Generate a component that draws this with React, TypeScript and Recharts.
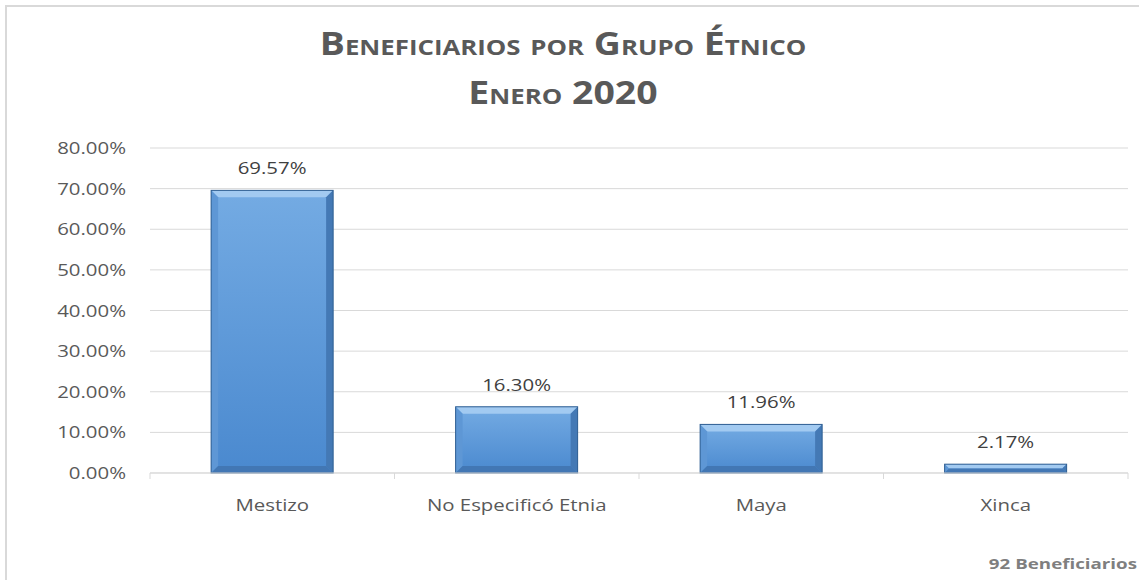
import { BarChart, Bar, XAxis, YAxis, CartesianGrid, LabelList } from "recharts";

const categories = ["Mestizo", "No Especificó Etnia", "Maya", "Xinca"];
const shares = [69.57, 16.3, 11.96, 2.17];
const yTicks = [0, 10, 20, 30, 40, 50, 60, 70, 80];
const titleLines = ["Beneficiarios por Grupo Étnico", "Enero 2020"];
const footnote = "92 Beneficiarios";

const data = categories.map((name, i) => ({ name, value: shares[i] }));

const W = 1139;
const H = 580;
const X_H = 30;
const M = { top: 148, right: 11, bottom: 107 - X_H, left: 0 };
const Y_W = 150;
const SX = 1.2;
const T_SX = 1.17;
const T_CX = 563;
const FONT = "'Open Sans', sans-serif";
const GRID = "#d9d9d9";
const band = (W - M.right - M.left - Y_W) / categories.length;

const fmt = (v: number) => v.toFixed(2) + "%";

const Stretch = ({ x, y, anchor, children, size, fill, weight, sx = SX }: any) => (
  <text
    transform={`translate(${x},${y}) scale(${sx},1)`}
    textAnchor={anchor}
    fontSize={size}
    fill={fill}
    fontWeight={weight}
    fontFamily={FONT}
  >
    {children}
  </text>
);

const YTick = ({ x, y, payload }: any) => (
  <Stretch x={x} y={y + 6} anchor="end" size={17} fill="#595959">
    {fmt(payload.value)}
  </Stretch>
);

const XTick = ({ x, y, payload, index }: any) => (
  <g>
    <line x1={x - band / 2} x2={x - band / 2} y1={y} y2={y + 6} stroke={GRID} />
    {index === categories.length - 1 && (
      <line x1={x + band / 2} x2={x + band / 2} y1={y} y2={y + 6} stroke={GRID} />
    )}
    <Stretch x={x} y={y + 38} anchor="middle" size={17} fill="#595959">
      {payload.value}
    </Stretch>
  </g>
);

const BevelBar = ({ x, y, width, height }: any) => {
  if (height <= 0) return null;
  const b = Math.min(7, height / 2, width / 2);
  const r = x + width;
  const btm = y + height;
  return (
    <g>
      <rect x={x} y={y} width={width} height={height} fill="url(#barBody)" />
      <polygon points={`${x},${y} ${r},${y} ${r - b},${y + b} ${x + b},${y + b}`} fill="#a2caf1" />
      <polygon points={`${x},${y} ${x + b},${y + b} ${x + b},${btm - b} ${x},${btm}`} fill="#5e97d5" />
      <polygon points={`${r},${y} ${r},${btm} ${r - b},${btm - b} ${r - b},${y + b}`} fill="#4479b5" />
      <polygon points={`${x},${btm} ${x + b},${btm - b} ${r - b},${btm - b} ${r},${btm}`} fill="#4277b4" />
      <rect x={x} y={y} width={width} height={height} fill="none" stroke="#2f5e92" strokeWidth={1} />
    </g>
  );
};

const TopLabel = ({ x, y, width, value }: any) => (
  <Stretch x={x + width / 2} y={y - 16} anchor="middle" size={17} fill="#404040">
    {fmt(value)}
  </Stretch>
);

const Title = ({ y, children }: any) => (
  <text
    transform={`translate(${T_CX},${y}) scale(${T_SX},1)`}
    textAnchor="middle"
    fontFamily={FONT}
    fontWeight={700}
    fontSize={32}
    fill="#595959"
    style={{ fontVariant: "small-caps" }}
  >
    {children}
  </text>
);

export default function App() {
  return (
    <div style={{ position: "absolute", left: 0, top: 0, width: W, height: H, background: "#fff", overflow: "hidden" }}>
      <div
        style={{
          position: "absolute",
          left: 5,
          top: 5,
          right: -10,
          bottom: -10,
          borderLeft: `2px solid ${GRID}`,
          borderTop: `2px solid ${GRID}`,
        }}
      />
      <BarChart width={W} height={H} data={data} margin={M} barCategoryGap="25%">
        <defs>
          <linearGradient id="barBody" x1="0" y1="0" x2="0" y2="1">
            <stop offset="0%" stopColor="#74abe3" />
            <stop offset="100%" stopColor="#4a89cf" />
          </linearGradient>
        </defs>
        <Title y={55}>{titleLines[0]}</Title>
        <Title y={104}>{titleLines[1]}</Title>
        <CartesianGrid vertical={false} stroke={GRID} />
        <YAxis
          width={Y_W}
          domain={[0, 80]}
          ticks={yTicks}
          axisLine={false}
          tickLine={false}
          tickSize={0}
          tickMargin={24}
          tick={<YTick />}
          interval={0}
        />
        <XAxis
          dataKey="name"
          height={X_H}
          axisLine={{ stroke: GRID }}
          tickLine={false}
          tickSize={0}
          tickMargin={0}
          tick={<XTick />}
          interval={0}
        />
        <Bar dataKey="value" shape={<BevelBar />} isAnimationActive={false}>
          <LabelList dataKey="value" content={<TopLabel />} />
        </Bar>
        <Stretch x={1137} y={569} anchor="end" size={15} fill="#7f7f7f" weight={700} sx={1.25}>
          {footnote}
        </Stretch>
      </BarChart>
    </div>
  );
}
